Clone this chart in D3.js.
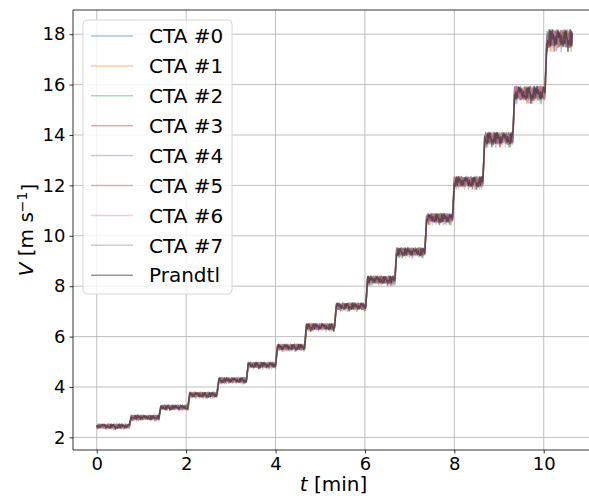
<!DOCTYPE html>
<html>
<head>
<meta charset="utf-8">
<script src="https://cdn.jsdelivr.net/npm/d3@7"></script>
<style>
  body { margin: 0; background: #fff; }
  svg { display: block; font-family: "DejaVu Sans", sans-serif; }
</style>
</head>
<body>
<div id="chart_div"></div>
<script>
// step start times [min], last entry is the end of the run
var stepTimes = [0, 0.73, 1.39, 2.04, 2.69, 3.35, 4.0, 4.65, 5.32, 6.02, 6.67, 7.34, 7.96, 8.64, 9.31, 10.03, 10.64];
// mean velocity of each step [m/s]
var stepLevels = [2.44, 2.79, 3.19, 3.69, 4.27, 4.87, 5.58, 6.39, 7.2, 8.25, 9.36, 10.7, 12.14, 13.86, 15.65, 17.82];
// half width of the fluctuation band on each step [m/s]
var stepSpread = [0.09, 0.09, 0.09, 0.1, 0.1, 0.11, 0.12, 0.13, 0.14, 0.16, 0.17, 0.19, 0.22, 0.26, 0.3, 0.38];
// fluctuation pattern (relative units)
var fluct = [0.3, -0.5, 0.8, -0.2, 0.1, -0.9, 0.6, 0.4, -0.3, 0.7, -0.6, 0.2, -0.1, 0.9, -0.4, 0.5,
             -0.8, 0.0, 0.6, -0.7, 0.3, -0.2, 0.8, -0.5, 0.1, 0.4, -1.3, 0.7, -0.3, 0.2, -0.6, 0.5,
             0.9, -0.1, -0.7, 0.3, 0.6, -0.4, 0.0, -0.8, 0.4, 0.7, -0.2, -0.5, 0.2, 0.8, -0.6, 0.1];
var seriesNames = ['CTA #0', 'CTA #1', 'CTA #2', 'CTA #3', 'CTA #4', 'CTA #5', 'CTA #6', 'CTA #7', 'Prandtl'];
var seriesBias = [0.02, -0.01, 0.0, 0.015, -0.02, 0.01, -0.005, 0.0, 0.0];
var seriesStride = [1, 5, 7, 11, 13, 17, 19, 23, 25];
var xTicks = [0, 2, 4, 6, 8, 10];
var yTicks = [2, 4, 6, 8, 10, 12, 14, 16, 18];

var line_colors = ['#1f77b4', '#ff7f0e', '#2ca02c', '#d62728', '#9467bd', '#8c564b', '#e377c2', '#7f7f7f', '#000000'];

var fig_w = 589, fig_h = 503;
var margin = {top: 10, left: 73},
    width = 523,
    height = 440;

var svg = d3.select('#chart_div').append('svg')
  .attr('width', fig_w)
  .attr('height', fig_h);

var g = svg.append('g')
  .attr('transform', 'translate(' + margin.left + ',' + margin.top + ')');

var xScale = d3.scaleLinear().domain([-0.532, 11.17]).range([0, width]);
var yScale = d3.scaleLinear().domain([1.5, 18.96]).range([height, 0]);

// grid
g.append('g').selectAll('line.vgrid')
  .data(xTicks).enter().append('line')
  .attr('x1', function(d){ return xScale(d); })
  .attr('x2', function(d){ return xScale(d); })
  .attr('y1', 0).attr('y2', height)
  .style('stroke', '#b0b0b0').style('stroke-width', '0.8px');

g.append('g').selectAll('line.hgrid')
  .data(yTicks).enter().append('line')
  .attr('x1', 0).attr('x2', width)
  .attr('y1', function(d){ return yScale(d); })
  .attr('y2', function(d){ return yScale(d); })
  .style('stroke', '#b0b0b0').style('stroke-width', '0.8px');

// build each series from the step table
var nPerStep = 60;
function buildSeries(s){
  var pts = [];
  for (var i = 0; i < stepLevels.length; i++) {
    var t0 = stepTimes[i] + (i > 0 ? 0.04 : 0), t1 = stepTimes[i + 1];
    for (var j = 0; j < nPerStep; j++) {
      var t = t0 + (t1 - t0) * j / (nPerStep - 1);
      var f = fluct[(s * 5 + i * 7 + j * seriesStride[s]) % fluct.length];
      pts.push({t: t, v: stepLevels[i] + seriesBias[s] + f * stepSpread[i]});
    }
  }
  return pts;
}

var valueline = d3.line()
  .x(function(d){ return xScale(d.t); })
  .y(function(d){ return yScale(d.v); });

var plot = g.append('g');
seriesNames.forEach(function(name, s){
  plot.append('path')
    .datum(buildSeries(s))
    .attr('d', valueline)
    .attr('fill', 'none')
    .style('stroke', line_colors[s])
    .style('stroke-opacity', 0.4)
    .style('stroke-width', '1.5px')
    .style('stroke-linejoin', 'round');
});

// axes
var xAxis = g.append('g')
  .attr('class', 'xaxis')
  .attr('transform', 'translate(0,' + height + ')')
  .call(d3.axisBottom(xScale).tickValues(xTicks).tickSize(3.5).tickPadding(4));

var yAxis = g.append('g')
  .attr('class', 'yaxis')
  .call(d3.axisLeft(yScale).tickValues(yTicks).tickSize(3.5).tickPadding(4));

svg.selectAll('.xaxis text, .yaxis text')
  .style('font-family', '"DejaVu Sans", sans-serif')
  .style('font-size', '18px')
  .style('fill', '#000');
svg.selectAll('.tick line').style('stroke', '#000').style('stroke-width', '0.8px');
svg.selectAll('path.domain').style('stroke', 'none');

// spines
g.append('line').attr('x1', 0).attr('x2', 0).attr('y1', 0).attr('y2', height)
  .style('stroke', '#000').style('stroke-width', '0.8px');
g.append('line').attr('x1', 0).attr('x2', width).attr('y1', height).attr('y2', height)
  .style('stroke', '#000').style('stroke-width', '0.8px');
g.append('line').attr('x1', 0).attr('x2', width).attr('y1', 0).attr('y2', 0)
  .style('stroke', '#000').style('stroke-width', '0.8px');

// axis labels
var xl = svg.append('text')
  .attr('x', margin.left + width / 2 - 1)
  .attr('y', 491)
  .attr('text-anchor', 'middle')
  .style('font-size', '20px');
xl.append('tspan').style('font-style', 'italic').text('t');
xl.append('tspan').text(' [min]');

var yl = svg.append('text')
  .attr('transform', 'translate(33,' + (margin.top + height / 2) + ') rotate(-90)')
  .attr('text-anchor', 'middle')
  .style('font-size', '20px');
yl.append('tspan').style('font-style', 'italic').text('V');
yl.append('tspan').text(' [m s');
yl.append('tspan').attr('dy', '-0.45em').style('font-size', '14px').text('\u22121');
yl.append('tspan').attr('dy', '0.45em').text(']');

// legend
var legend = svg.append('g').attr('transform', 'translate(83,20)');
legend.append('rect')
  .attr('width', 149).attr('height', 274)
  .attr('rx', 4)
  .style('fill', '#fff').style('fill-opacity', 0.8)
  .style('stroke', '#d6d6d6').style('stroke-width', '1px');

var rows = legend.selectAll('g.row')
  .data(seriesNames).enter().append('g')
  .attr('transform', function(d, i){ return 'translate(0,' + (16 + i * 29.9) + ')'; });

rows.append('line')
  .attr('x1', 8).attr('x2', 50)
  .style('stroke', function(d, i){ return line_colors[i]; })
  .style('stroke-opacity', 0.4)
  .style('stroke-width', '1.5px');

rows.append('text')
  .attr('x', 66).attr('dy', '0.36em')
  .style('font-size', '20px')
  .text(function(d){ return d; });
</script>
</body>
</html>
